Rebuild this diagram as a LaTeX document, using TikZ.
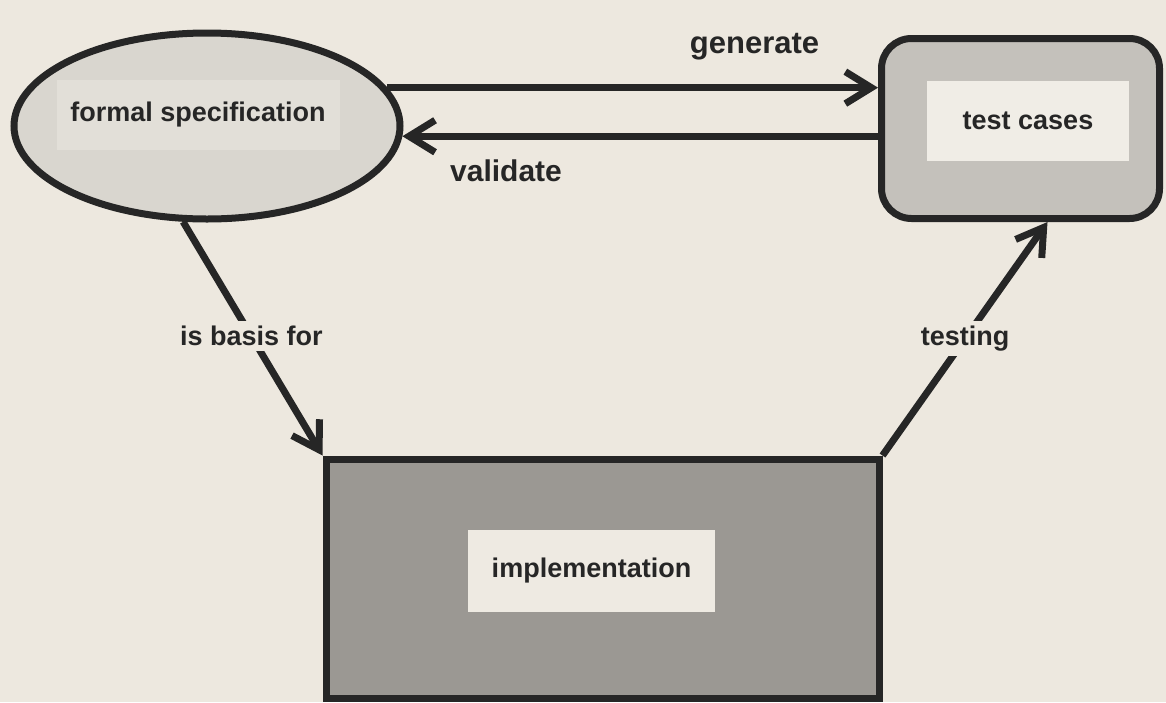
\documentclass[tikz,border=0pt]{standalone}
\usepackage{fontspec}
\setmainfont{Liberation Sans}
\usetikzlibrary{shapes.geometric,arrows.meta,calc}
\definecolor{bgc}{HTML}{EDE8DF}
\definecolor{ink}{HTML}{262626}
\definecolor{ellfill}{HTML}{D9D6CF}
\definecolor{ellinner}{HTML}{E2DFD8}
\definecolor{tcfill}{HTML}{C4C1BB}
\definecolor{tcinner}{HTML}{F0EDE6}
\definecolor{imfill}{HTML}{9B9893}
\definecolor{iminner}{HTML}{EEEAE2}
\tikzset{
  lbl/.style={font=\fontsize{27}{31}\selectfont\bfseries, text=ink},
  biglbl/.style={font=\fontsize{31}{35}\selectfont\bfseries, text=ink},
  shapeline/.style={draw=ink, line width=7},
  arr/.style={draw=ink, line width=7, -{Straight Barb[length=26, width=32]}},
  onlinelbl/.style={lbl, fill=bgc, inner sep=5}
}
\begin{document}
\begin{tikzpicture}[x=1pt,y=-1pt]
\fill[bgc] (0,0) rectangle (1166,702);
\useasboundingbox (0,0) rectangle (1166,702);

% formal specification ellipse
\node[ellipse, shapeline, fill=ellfill, minimum width=386, minimum height=186, inner sep=0] (fs) at (207,126) {};
\node[fill=ellinner, minimum width=283, minimum height=70, inner sep=0, lbl] (fst) at (198,115) {formal specification};

% test cases rounded box
\node[rectangle, rounded corners=30, shapeline, fill=tcfill, minimum width=278, minimum height=180, inner sep=0] (tc) at (1020.5,128.5) {};
\node[fill=tcinner, minimum width=202, minimum height=80, inner sep=0, lbl] (tct) at (1028,121) {test cases};

% implementation box
\node[rectangle, shapeline, fill=imfill, minimum width=553, minimum height=239, inner sep=0] (im) at (602.5,578.5) {};
\node[fill=iminner, minimum width=247, minimum height=82, inner sep=0, lbl] (imt) at (591.5,571) {implementation};

% connectors
\draw[arr] (fs.12) -- (fs.12 -| tc.west);
\draw[arr] (fs.-3 -| tc.west) -- (fs.-3);
\draw[arr] (fs.256) -- node[onlinelbl, pos=0.49] (lb) {is basis for} (im.north west);
\draw[arr] (im.north east) -- node[onlinelbl, pos=0.5] (lt) {testing} ($(tc.south)+(27,0)$);

% arrow labels
\node[biglbl] (lg) at (754.5,47) {generate};
\node[biglbl, font=\fontsize{30}{34}\selectfont\bfseries] (lv) at (506,171) {validate};
\end{tikzpicture}
\end{document}
